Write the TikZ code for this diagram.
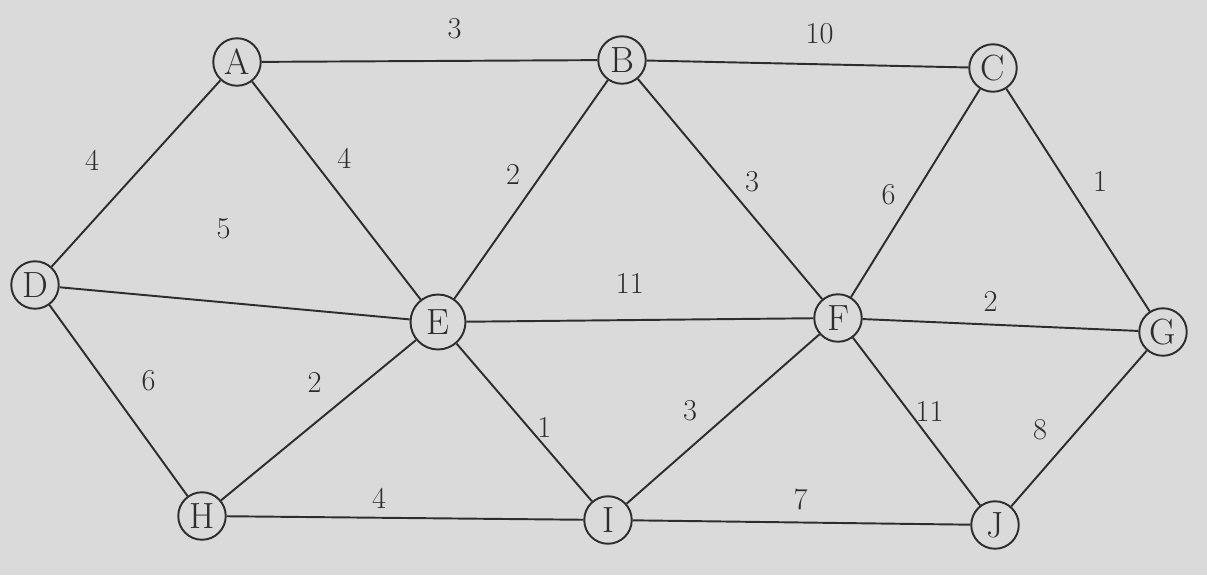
\documentclass[tikz,border=0pt]{standalone}
\usepackage{tikz}
\usepackage{xcolor}
\usetikzlibrary{positioning}

\definecolor{paper}{RGB}{218,218,218}
\definecolor{ink}{RGB}{45,45,45}

\begin{document}
\begin{tikzpicture}[
    x=0.02cm, y=-0.02cm, % pixel units, y pointing down
    vertex/.style={draw=ink, circle, line width=1.1pt, fill=paper, minimum size=0.95cm, inner sep=0pt, font=\huge, text=ink},
    edge/.style={draw=ink, line width=1.1pt},
    weight/.style={font=\LARGE, text=ink, inner sep=0pt}
]

% paper
\fill[paper] (0,0) rectangle (1207,575);
\useasboundingbox (0,0) rectangle (1207,575);

% vertices
\node[vertex] (A) at (237,62) {A};
\node[vertex] (B) at (622,60) {B};
\node[vertex] (C) at (993,68) {C};
\node[vertex] (D) at (35,285) {D};
\node[vertex, minimum size=1.1cm] (E) at (438,322) {E};
\node[vertex] (F) at (838,318) {F};
\node[vertex] (G) at (1163,332) {G};
\node[vertex] (H) at (202,516) {H};
\node[vertex] (I) at (608,520) {I};
\node[vertex] (J) at (995,525) {J};

% edges with weights
\draw[edge] (A) -- (B) node[weight, midway, shift={(25,-32)}] {3};
\draw[edge] (B) -- (C) node[weight, midway, shift={(12,-30)}] {10};
\draw[edge] (A) -- (D) node[weight, midway, shift={(-44,-13)}] {4};
\draw[edge] (A) -- (E) node[weight, midway, shift={(8,-32)}] {4};
\draw[edge] (D) -- (E) node[weight, midway, shift={(-11,-75)}] {5};
\draw[edge] (B) -- (E) node[weight, midway, shift={(-18,-15)}] {2};
\draw[edge] (B) -- (F) node[weight, midway, shift={(22,-7)}] {3};
\draw[edge] (C) -- (F) node[weight, midway, shift={(-27,2)}] {6};
\draw[edge] (C) -- (G) node[weight, midway, shift={(22,-19)}] {1};
\draw[edge] (E) -- (F) node[weight, midway, shift={(-10,-37)}] {11};
\draw[edge] (F) -- (G) node[weight, midway, shift={(-10,-24)}] {2};
\draw[edge] (D) -- (H) node[weight, midway, shift={(30,-20)}] {6};
\draw[edge] (H) -- (E) node[weight, midway, shift={(-4,-38)}] {2};
\draw[edge] (E) -- (I) node[weight, midway, shift={(20,5)}] {1};
\draw[edge] (F) -- (I) node[weight, midway, shift={(-33,-8)}] {3};
\draw[edge] (F) -- (J) node[weight, midway, shift={(13,-10)}] {11};
\draw[edge] (G) -- (J) node[weight, midway, shift={(-39,1)}] {8};
\draw[edge] (H) -- (I) node[weight, midway, shift={(-26,-20)}] {4};
\draw[edge] (I) -- (J) node[weight, midway, shift={(-1,-23)}] {7};
\end{tikzpicture}
\end{document}
